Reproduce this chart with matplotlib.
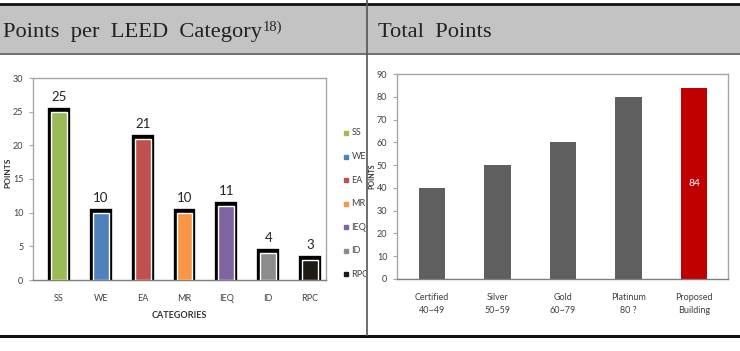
import matplotlib
matplotlib.use("Agg")
import matplotlib.pyplot as plt
from matplotlib.lines import Line2D
from matplotlib.patches import Rectangle

# ---------------- data ----------------
categories = ["SS", "WE", "EA", "MR", "IEQ", "ID", "RPC"]
cat_points = [25, 10, 21, 10, 11, 4, 3]
cat_colors = ["#9bbb59", "#4f81bd", "#c0504d", "#f79646", "#8064a2", "#8c8c8c", "#1e1c12"]

levels = ["Certified\n40~49", "Silver\n50~59", "Gold\n60~79", "Platinum\n80 ?", "Proposed\nBuilding"]
level_points = [40, 50, 60, 80, 84]
level_colors = ["#5f5f5f", "#5f5f5f", "#5f5f5f", "#5f5f5f", "#c00000"]
proposed_label = "84"

left_title = "Points  per  LEED  Category"
left_sup = "18)"
right_title = "Total  Points"

W, H = 740, 351
fig = plt.figure(figsize=(W / 100, H / 100), dpi=100)
plt.rcParams["font.family"] = ["Lato", "DejaVu Sans"]

def fx(px):
    return px / W

def fy(py):
    return 1 - py / H

# ---------------- table frame ----------------
fig.patches.append(Rectangle((0, fy(53)), 1, fy(5) - fy(53), transform=fig.transFigure,
                             facecolor="#c3c3c3", edgecolor="none", zorder=0))
fig.lines.append(Line2D([0, 1], [fy(4), fy(4)], transform=fig.transFigure, color="#111111", lw=2.0))
fig.lines.append(Line2D([0, 1], [fy(53.5), fy(53.5)], transform=fig.transFigure, color="#555555", lw=1.2))
fig.lines.append(Line2D([fx(366.5), fx(366.5)], [fy(0), fy(335)], transform=fig.transFigure,
                        color="#555555", lw=1.2, zorder=5))
fig.lines.append(Line2D([0, 1], [fy(335.5), fy(335.5)], transform=fig.transFigure, color="#111111", lw=2.2))

fig.text(fx(3), fy(37), left_title, family="Liberation Serif", fontsize=16.2, color="#222222", va="baseline")
fig.text(fx(263), fy(31), left_sup, family="Liberation Serif", fontsize=10.5, color="#222222", va="baseline")
fig.text(fx(378), fy(37), right_title, family="Liberation Serif", fontsize=16.2, color="#222222", va="baseline")

spine_col = "#a6a6a6"
tick_fs = 6.5

# ---------------- left chart ----------------
ax1 = fig.add_axes([fx(33), fy(280), fx(326) - fx(33), fy(78) - fy(280)])
x1 = list(range(len(categories)))
ax1.bar(x1, cat_points, width=0.33, color="black", edgecolor="black", linewidth=6, joinstyle="miter", zorder=2)
ax1.bar(x1, cat_points, width=0.38, color=cat_colors, edgecolor="white", linewidth=1.0, zorder=3)
for xi, v in zip(x1, cat_points):
    ax1.annotate(str(v), (xi, v), xytext=(0, 6.5), textcoords="offset points",
                 ha="center", va="bottom", fontsize=9.5, color="#222222")
ax1.set_xlim(-0.62, 6.38)
ax1.set_ylim(0, 30)
ax1.set_yticks(range(0, 31, 5))
ax1.set_xticks(x1)
ax1.set_xticklabels(categories)
ax1.tick_params(axis="y", labelsize=tick_fs, colors="#404040", length=3, color=spine_col, pad=4)
ax1.tick_params(axis="x", labelsize=tick_fs, colors="#404040", length=0, pad=10)
for s in ax1.spines.values():
    s.set_color(spine_col)
    s.set_linewidth(1.0)
ax1.spines["bottom"].set_color("#7f7f7f")
ax1.set_xlabel("CATEGORIES", fontsize=6.5, fontweight="bold", color="#333333", labelpad=6)
ax1.set_ylabel("POINTS", fontsize=6, fontweight="bold", color="#333333")
ax1.yaxis.set_label_coords(-0.074, 0.53)

# legend (clipped by the divider)
lax = fig.add_axes([fx(338), fy(285), fx(366) - fx(338), fy(120) - fy(285)])
lax.set_axis_off()
lax.set_xlim(0, 1)
lax.set_ylim(len(categories) - 0.5, -0.5)
for i, (c, col) in enumerate(zip(categories, cat_colors)):
    lax.plot([0.3], [i + 0.05], marker="s", markersize=2.5, color=col, linestyle="none")
    lax.text(0.48, i + 0.05, c, fontsize=6.5, color="#404040", va="center", ha="left", clip_on=True)

# ---------------- right chart ----------------
ax2 = fig.add_axes([fx(397), fy(279), fx(728) - fx(397), fy(74) - fy(279)])
x2 = list(range(len(levels)))
ax2.bar(x2, level_points, width=0.4, color=level_colors, zorder=2)
ax2.text(x2[-1], level_points[-1] / 2, proposed_label, ha="center", va="center",
         fontsize=7.5, color="white", zorder=3)
ax2.set_xlim(-0.534, 4.52)
ax2.set_ylim(0, 90)
ax2.set_yticks(range(0, 91, 10))
ax2.set_xticks(x2)
ax2.set_xticklabels(levels, linespacing=1.6)
ax2.tick_params(axis="y", labelsize=tick_fs, colors="#404040", length=3, color=spine_col, pad=4)
ax2.tick_params(axis="x", labelsize=tick_fs, colors="#404040", length=0, pad=10)
for s in ax2.spines.values():
    s.set_color(spine_col)
    s.set_linewidth(1.0)
ax2.spines["bottom"].set_color("#7f7f7f")
ax2.set_ylabel("POINTS", fontsize=5, fontweight="bold", color="#333333")
ax2.yaxis.set_label_coords(-0.064, 0.5)

fig.savefig("out.png", dpi=100)
